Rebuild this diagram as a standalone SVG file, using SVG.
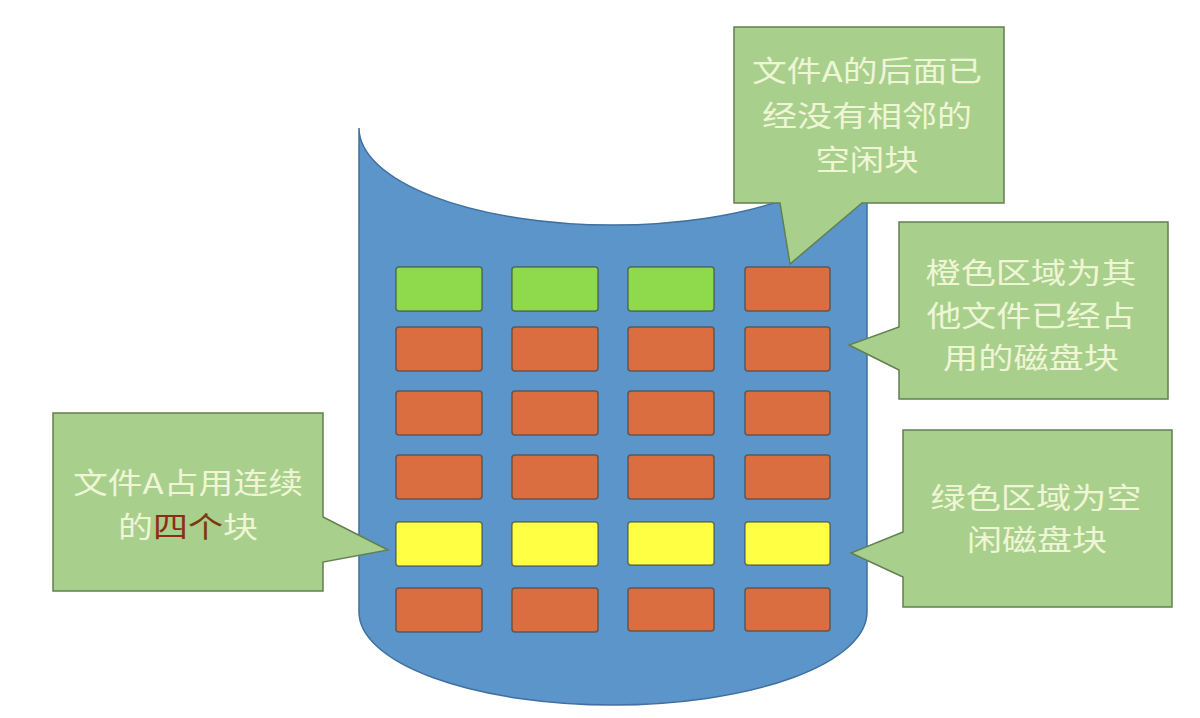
<svg xmlns="http://www.w3.org/2000/svg" width="1200" height="718" viewBox="0 0 1200 718">
<style>
.blk{stroke:#3a3a32;stroke-opacity:.6;stroke-width:1.5}
.g{fill:#8fd94c}
.o{fill:#db6e40}
.y{fill:#ffff44}
.call{fill:#a9cf8c;stroke:#62804f;stroke-width:1.5}
.t{font-family:"Noto Sans CJK SC","Noto Sans",sans-serif;font-size:29px;fill:#eff6d6;text-anchor:middle}
.r{fill:#8e2c18}
</style>
<rect width="1200" height="718" fill="#ffffff"/>
<g id="disk">
<path d="M359,128 A254,97 0 0 0 867,128 L867,612 A254,93 0 0 1 359,612 Z" fill="#5b95c9" stroke="#40709f" stroke-width="1.5"/>
</g>
<g id="blocks">
<rect class="blk g" x="396" y="267" width="86" height="44" rx="3"/>
<rect class="blk g" x="512" y="267" width="86" height="44" rx="3"/>
<rect class="blk g" x="628" y="267" width="86" height="44" rx="3"/>
<rect class="blk o" x="745" y="267" width="85" height="44" rx="3"/>
<rect class="blk o" x="396" y="327" width="86" height="44" rx="3"/>
<rect class="blk o" x="512" y="327" width="86" height="44" rx="3"/>
<rect class="blk o" x="628" y="327" width="86" height="44" rx="3"/>
<rect class="blk o" x="745" y="327" width="85" height="44" rx="3"/>
<rect class="blk o" x="396" y="391" width="86" height="44" rx="3"/>
<rect class="blk o" x="512" y="391" width="86" height="44" rx="3"/>
<rect class="blk o" x="628" y="391" width="86" height="44" rx="3"/>
<rect class="blk o" x="745" y="391" width="85" height="44" rx="3"/>
<rect class="blk o" x="396" y="455" width="86" height="44" rx="3"/>
<rect class="blk o" x="512" y="455" width="86" height="44" rx="3"/>
<rect class="blk o" x="628" y="455" width="86" height="44" rx="3"/>
<rect class="blk o" x="745" y="455" width="85" height="44" rx="3"/>
<rect class="blk y" x="396" y="522" width="86" height="44" rx="3"/>
<rect class="blk y" x="512" y="522" width="86" height="44" rx="3"/>
<rect class="blk y" x="628" y="522" width="86" height="43" rx="3"/>
<rect class="blk y" x="745" y="522" width="85" height="43" rx="3"/>
<rect class="blk o" x="396" y="588" width="86" height="44" rx="3"/>
<rect class="blk o" x="512" y="588" width="86" height="44" rx="3"/>
<rect class="blk o" x="628" y="588" width="86" height="43" rx="3"/>
<rect class="blk o" x="745" y="588" width="85" height="43" rx="3"/>
</g>
<g id="callout-top">
<path class="call" d="M734,27 H1004 V203 H862 L790,264 L780,203 H734 Z"/>
<text class="t" x="867" y="82" textLength="230" lengthAdjust="spacingAndGlyphs">文件A的后面已</text>
<text class="t" x="867" y="127" textLength="210" lengthAdjust="spacingAndGlyphs">经没有相邻的</text>
<text class="t" x="867" y="171" textLength="103" lengthAdjust="spacingAndGlyphs">空闲块</text>
</g>
<g id="callout-orange">
<path class="call" d="M899,222 H1168 V399 H899 V370 L849,345 L899,327 Z"/>
<text class="t" x="1031" y="284" textLength="211" lengthAdjust="spacingAndGlyphs">橙色区域为其</text>
<text class="t" x="1031" y="327" textLength="209" lengthAdjust="spacingAndGlyphs">他文件已经占</text>
<text class="t" x="1031" y="369" textLength="176" lengthAdjust="spacingAndGlyphs">用的磁盘块</text>
</g>
<g id="callout-green">
<path class="call" d="M903,430 H1172 V607 H903 V577 L851,553 L903,532 Z"/>
<text class="t" x="1036" y="509" textLength="211" lengthAdjust="spacingAndGlyphs">绿色区域为空</text>
<text class="t" x="1037" y="551" textLength="140" lengthAdjust="spacingAndGlyphs">闲磁盘块</text>
</g>
<g id="callout-fileA">
<path class="call" d="M53,413 H323 V517 L388,550 L323,562 V591 H53 Z"/>
<text class="t" x="188" y="494" textLength="230" lengthAdjust="spacingAndGlyphs">文件A占用连续</text>
<text class="t" x="188" y="538" textLength="140" lengthAdjust="spacingAndGlyphs">的<tspan class="r">四</tspan><tspan fill="#7a3a12">个</tspan>块</text>
</g>
</svg>
